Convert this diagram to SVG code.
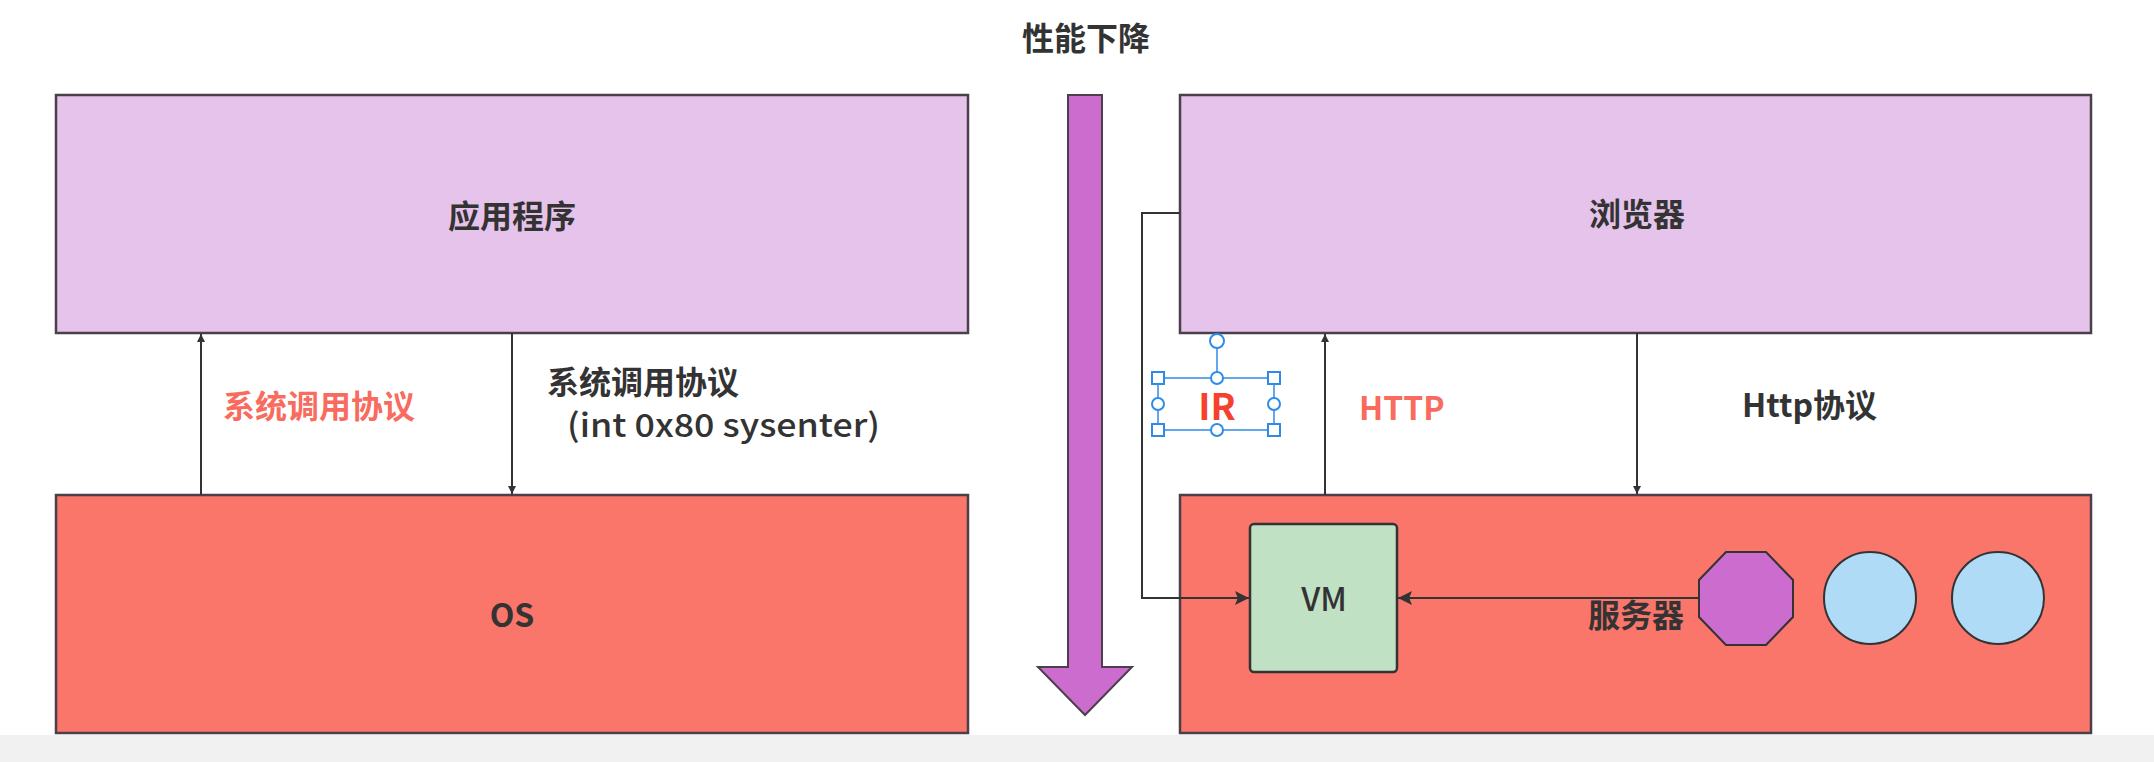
<svg xmlns="http://www.w3.org/2000/svg" width="2154" height="762" viewBox="0 0 2154 762">
<style>
text{font-family:"Noto Sans CJK SC","Liberation Sans",sans-serif;font-weight:bold;font-size:32px;fill:#333;}
.box{stroke:#4a3f4a;stroke-width:2.5;}
.app{fill:#e6c3ea;}
.os{fill:#fa756a;}
.line{stroke:#333;stroke-width:2;fill:none;}
.red{fill:#f86b5e;}
.sel{stroke:#2f8be8;stroke-width:2;fill:#fff;}
</style>
<defs>
<marker id="arr" viewBox="0 0 10 10" refX="10" refY="5" markerWidth="8" markerHeight="8" markerUnits="userSpaceOnUse" orient="auto">
<path d="M0,0 L10,5 L0,10 Z" fill="#333"/>
</marker>
<marker id="arr2" viewBox="0 0 10 10" refX="10" refY="5" markerWidth="14" markerHeight="14" markerUnits="userSpaceOnUse" orient="auto">
<path d="M0,0 L10,5 L0,10 L2,5 Z" fill="#333"/>
</marker>
</defs>
<rect x="0" y="0" width="2154" height="762" fill="#fff"/>
<rect x="0" y="735" width="2154" height="27" fill="#f1f1f1"/>

<g id="perf">
<text x="1086" y="50" text-anchor="middle">性能下降</text>
<path d="M1068,95 L1102,95 L1102,667 L1132,667 L1085,715 L1038,667 L1068,667 Z" fill="#cc6ccf" stroke="#4a3f4a" stroke-width="2"/>
</g>

<g id="app">
<rect class="box app" x="56" y="95" width="912" height="238"/>
<text x="512" y="228" text-anchor="middle">应用程序</text>
</g>
<g id="os">
<rect class="box os" x="56" y="495" width="912" height="238"/>
<text x="512" y="627" text-anchor="middle">OS</text>
</g>
<g id="browser">
<rect class="box app" x="1180" y="95" width="911" height="238"/>
<text x="1637" y="226" text-anchor="middle">浏览器</text>
</g>
<g id="server">
<rect class="box os" x="1180" y="495" width="911" height="238"/>
<text x="1636" y="627" text-anchor="middle">服务器</text>
</g>
<g id="vm">
<rect x="1250" y="524" width="147" height="148" rx="4" fill="#c1e1c5" stroke="#333" stroke-width="2.5"/>
<text x="1324" y="611" text-anchor="middle" style="font-weight:500">VM</text>
</g>
<g id="octagon">
<polygon points="1726,552 1766,552 1793,580 1793,617 1766,645 1726,645 1699,617 1699,580" fill="#cc6ccf" stroke="#333" stroke-width="2"/>
</g>
<g id="circle1">
<circle cx="1870" cy="598" r="46" fill="#b0dbf7" stroke="#333" stroke-width="2"/>
</g>
<g id="circle2">
<circle cx="1998" cy="598" r="46" fill="#b0dbf7" stroke="#333" stroke-width="2"/>
</g>

<g id="connectors">
<line class="line" x1="201" y1="495" x2="201" y2="334" marker-end="url(#arr)"/>
<line class="line" x1="512" y1="333" x2="512" y2="494" marker-end="url(#arr)"/>
<line class="line" x1="1325" y1="495" x2="1325" y2="334" marker-end="url(#arr)"/>
<line class="line" x1="1637" y1="333" x2="1637" y2="494" marker-end="url(#arr)"/>
<path class="line" d="M1180,213 L1142,213 L1142,598 L1249,598" marker-end="url(#arr2)"/>
<line class="line" x1="1699" y1="598" x2="1398" y2="598" marker-end="url(#arr2)"/>
</g>

<g id="labels">
<text x="223" y="418" class="red">系统调用协议</text>
<text x="547" y="394">系统调用协议</text>
<text x="567" y="437" textLength="313" lengthAdjust="spacingAndGlyphs" style="font-weight:500">(int 0x80  sysenter)</text>
<text x="1359" y="420" class="red">HTTP</text>
<text x="1742" y="417">Http协议</text>
</g>

<g id="ir">
<line x1="1158" y1="378" x2="1274" y2="378" stroke="#2f8be8" stroke-width="1.5"/>
<line x1="1158" y1="430" x2="1274" y2="430" stroke="#2f8be8" stroke-width="1.5"/>
<line x1="1158" y1="378" x2="1158" y2="430" stroke="#2f8be8" stroke-width="1.5"/>
<line x1="1274" y1="378" x2="1274" y2="430" stroke="#2f8be8" stroke-width="1.5"/>
<line x1="1217" y1="342" x2="1217" y2="378" stroke="#2f8be8" stroke-width="1.5"/>
<text x="1217" y="420" text-anchor="middle" style="fill:#f5412f;font-size:37px">IR</text>
<rect class="sel" x="1152" y="372" width="12" height="12"/>
<rect class="sel" x="1268" y="372" width="12" height="12"/>
<rect class="sel" x="1152" y="424" width="12" height="12"/>
<rect class="sel" x="1268" y="424" width="12" height="12"/>
<circle class="sel" cx="1217" cy="341" r="7"/>
<circle class="sel" cx="1217" cy="378" r="6"/>
<circle class="sel" cx="1217" cy="430" r="6"/>
<circle class="sel" cx="1158" cy="404" r="6"/>
<circle class="sel" cx="1274" cy="404" r="6"/>
</g>
</svg>
